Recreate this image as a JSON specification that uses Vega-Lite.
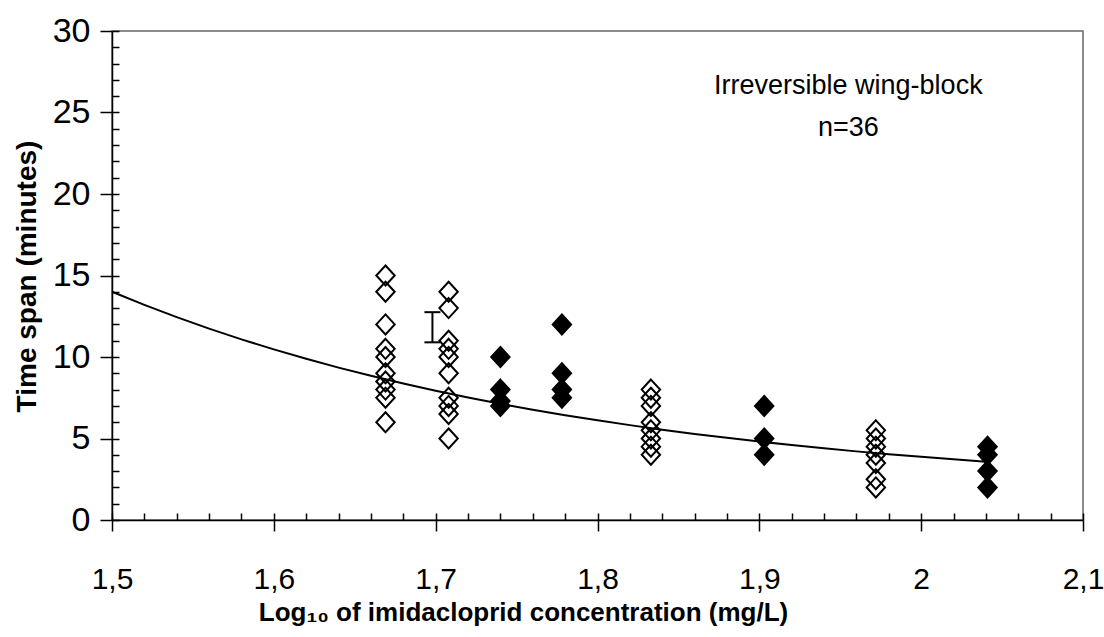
{
  "$schema": "https://vega.github.io/schema/vega-lite/v6.json",
  "width": 971,
  "height": 489,
  "autosize": {"type": "none"},
  "padding": {"left": 112, "top": 31, "right": 21, "bottom": 117},
  "background": "white",
  "config": {
    "view": {"stroke": "#666666", "strokeWidth": 1.5},
    "font": "Liberation Sans",
    "axis": {"grid": false}
  },
  "datasets": {
    "points": [
      {"x": 1.669, "y": 15, "type": "open"}, {"x": 1.669, "y": 14, "type": "open"}, {"x": 1.669, "y": 12, "type": "open"}, {"x": 1.669, "y": 10.5, "type": "open"}, {"x": 1.669, "y": 10, "type": "open"}, {"x": 1.669, "y": 9, "type": "open"}, {"x": 1.669, "y": 8.5, "type": "open"}, {"x": 1.669, "y": 8, "type": "open"}, {"x": 1.669, "y": 7.5, "type": "open"}, {"x": 1.669, "y": 6, "type": "open"},
      {"x": 1.708, "y": 14, "type": "open"}, {"x": 1.708, "y": 13, "type": "open"}, {"x": 1.708, "y": 11, "type": "open"}, {"x": 1.708, "y": 10.5, "type": "open"}, {"x": 1.708, "y": 10, "type": "open"}, {"x": 1.708, "y": 9, "type": "open"}, {"x": 1.708, "y": 7.5, "type": "open"}, {"x": 1.708, "y": 7, "type": "open"}, {"x": 1.708, "y": 6.5, "type": "open"}, {"x": 1.708, "y": 5, "type": "open"},
      {"x": 1.74, "y": 10, "type": "filled"}, {"x": 1.74, "y": 8, "type": "filled"}, {"x": 1.74, "y": 7.3, "type": "filled"}, {"x": 1.74, "y": 7, "type": "filled"},
      {"x": 1.778, "y": 12, "type": "filled"}, {"x": 1.778, "y": 9, "type": "filled"}, {"x": 1.778, "y": 8, "type": "filled"}, {"x": 1.778, "y": 7.5, "type": "filled"},
      {"x": 1.833, "y": 8, "type": "open"}, {"x": 1.833, "y": 7.5, "type": "open"}, {"x": 1.833, "y": 7, "type": "open"}, {"x": 1.833, "y": 6, "type": "open"}, {"x": 1.833, "y": 5.5, "type": "open"}, {"x": 1.833, "y": 5, "type": "open"}, {"x": 1.833, "y": 4.5, "type": "open"}, {"x": 1.833, "y": 4, "type": "open"},
      {"x": 1.903, "y": 7, "type": "filled"}, {"x": 1.903, "y": 5, "type": "filled"}, {"x": 1.903, "y": 4, "type": "filled"},
      {"x": 1.972, "y": 5.5, "type": "open"}, {"x": 1.972, "y": 5, "type": "open"}, {"x": 1.972, "y": 4.5, "type": "open"}, {"x": 1.972, "y": 4, "type": "open"}, {"x": 1.972, "y": 3.5, "type": "open"}, {"x": 1.972, "y": 2.5, "type": "open"}, {"x": 1.972, "y": 2, "type": "open"},
      {"x": 2.041, "y": 4.5, "type": "filled"}, {"x": 2.041, "y": 4, "type": "filled"}, {"x": 2.041, "y": 3, "type": "filled"}, {"x": 2.041, "y": 2, "type": "filled"}
    ],
    "curve": [
      {"x": 1.5, "y": 14.0}, {"x": 1.52, "y": 13.2}, {"x": 1.54, "y": 12.45}, {"x": 1.56, "y": 11.74}, {"x": 1.58, "y": 11.08},
      {"x": 1.6, "y": 10.47}, {"x": 1.62, "y": 9.89}, {"x": 1.64, "y": 9.35}, {"x": 1.66, "y": 8.85}, {"x": 1.68, "y": 8.38},
      {"x": 1.7, "y": 7.93}, {"x": 1.72, "y": 7.52}, {"x": 1.74, "y": 7.13}, {"x": 1.76, "y": 6.77}, {"x": 1.78, "y": 6.43},
      {"x": 1.8, "y": 6.12}, {"x": 1.82, "y": 5.82}, {"x": 1.84, "y": 5.54}, {"x": 1.86, "y": 5.28}, {"x": 1.88, "y": 5.04},
      {"x": 1.9, "y": 4.81}, {"x": 1.92, "y": 4.6}, {"x": 1.94, "y": 4.4}, {"x": 1.96, "y": 4.21}, {"x": 1.98, "y": 4.04},
      {"x": 2.0, "y": 3.88}, {"x": 2.02, "y": 3.72}, {"x": 2.04, "y": 3.58}
    ],
    "errbar": [{"x": 1.698, "lo": 10.9, "hi": 12.75}],
    "errcap": [{"x": 1.698, "y": 10.9}, {"x": 1.698, "y": 12.75}]
  },
  "layer": [
    {
      "data": {"name": "curve"},
      "mark": {"type": "line", "color": "black", "strokeWidth": 2},
      "encoding": {
        "x": {
          "field": "x", "type": "quantitative",
          "scale": {"domain": [1.5, 2.1], "nice": false, "zero": false},
          "axis": {
            "orient": "bottom",
            "values": [1.5, 1.6, 1.7, 1.8, 1.9, 2.0, 2.1],
            "labelExpr": "replace(format(datum.value, '.1~f'), '.', ',')",
            "labelFontSize": 30, "labelColor": "black", "labelFlush": false, "labelOverlap": false,
            "labelPadding": 33,
            "tickSize": 11, "tickColor": "black", "tickWidth": 1.5,
            "domainColor": "black", "domainWidth": 1.5,
            "title": "Log₁₀ of imidacloprid concentration (mg/L)",
            "titleFontSize": 26, "titleFontWeight": "bold", "titleColor": "black",
            "titleX": 411, "titleY": 92, "titleAlign": "center", "titleBaseline": "middle", "titleAnchor": null
          }
        },
        "y": {
          "field": "y", "type": "quantitative",
          "scale": {"domain": [0, 30], "nice": false, "zero": false},
          "axis": {
            "orient": "left",
            "values": [0, 5, 10, 15, 20, 25, 30],
            "labelFontSize": 34, "labelColor": "black", "labelPadding": 10,
            "tickSize": 12, "tickColor": "black", "tickWidth": 1.5,
            "domainColor": "black", "domainWidth": 1.5,
            "title": "Time span (minutes)",
            "titleFontSize": 28, "titleFontWeight": "bold", "titleColor": "black",
            "titleX": -85, "titleY": 245, "titleAngle": -90, "titleAlign": "center", "titleBaseline": "middle", "titleAnchor": null
          }
        }
      }
    },
    {
      "data": {"name": "errbar"},
      "mark": {"type": "rule", "color": "black", "strokeWidth": 2},
      "encoding": {
        "x": {
          "field": "x", "type": "quantitative",
          "scale": {"domain": [1.5, 2.1], "nice": false, "zero": false},
          "axis": {
            "orient": "bottom",
            "values": [1.5, 1.52, 1.54, 1.56, 1.58, 1.6, 1.62, 1.64, 1.66, 1.68, 1.7, 1.72, 1.74, 1.76, 1.78, 1.8, 1.82, 1.84, 1.86, 1.88, 1.9, 1.92, 1.94, 1.96, 1.98, 2.0, 2.02, 2.04, 2.06, 2.08, 2.1],
            "tickSize": -7, "tickColor": "black", "tickWidth": 1.5,
            "labels": false, "domain": false, "title": null
          }
        },
        "y": {
          "field": "lo", "type": "quantitative",
          "scale": {"domain": [0, 30], "nice": false, "zero": false},
          "axis": {
            "orient": "left",
            "values": [0, 1, 2, 3, 4, 5, 6, 7, 8, 9, 10, 11, 12, 13, 14, 15, 16, 17, 18, 19, 20, 21, 22, 23, 24, 25, 26, 27, 28, 29, 30],
            "tickSize": -7, "tickColor": "black", "tickWidth": 1.5,
            "labels": false, "domain": false, "title": null
          }
        },
        "y2": {"field": "hi"}
      }
    },
    {
      "data": {"name": "errcap"},
      "mark": {"type": "tick", "orient": "horizontal", "size": 16, "thickness": 2, "color": "black", "opacity": 1},
      "encoding": {
        "x": {"field": "x", "type": "quantitative", "scale": {"domain": [1.5, 2.1], "nice": false, "zero": false}, "axis": null},
        "y": {"field": "y", "type": "quantitative", "scale": {"domain": [0, 30], "nice": false, "zero": false}, "axis": null}
      }
    },
    {
      "data": {"name": "points"},
      "transform": [{"filter": "datum.type === 'open'"}],
      "mark": {"type": "point", "shape": "M0,-1L0.92,0L0,1L-0.92,0Z", "size": 400, "filled": false, "stroke": "black", "strokeWidth": 2, "opacity": 1},
      "encoding": {
        "x": {"field": "x", "type": "quantitative", "scale": {"domain": [1.5, 2.1], "nice": false, "zero": false}, "axis": null},
        "y": {"field": "y", "type": "quantitative", "scale": {"domain": [0, 30], "nice": false, "zero": false}, "axis": null}
      }
    },
    {
      "data": {"name": "points"},
      "transform": [{"filter": "datum.type === 'filled'"}],
      "mark": {"type": "point", "shape": "M0,-1L0.92,0L0,1L-0.92,0Z", "size": 400, "filled": true, "fill": "black", "stroke": "black", "strokeWidth": 2, "opacity": 1},
      "encoding": {
        "x": {"field": "x", "type": "quantitative", "scale": {"domain": [1.5, 2.1], "nice": false, "zero": false}, "axis": null},
        "y": {"field": "y", "type": "quantitative", "scale": {"domain": [0, 30], "nice": false, "zero": false}, "axis": null}
      }
    },
    {
      "data": {"values": [{"label": "annotation"}]},
      "mark": {"type": "text", "fontSize": 27, "lineHeight": 42, "align": "center", "baseline": "middle", "color": "black", "font": "Liberation Sans"},
      "encoding": {
        "x": {"datum": 1.955, "type": "quantitative", "scale": {"domain": [1.5, 2.1], "nice": false, "zero": false}, "axis": null},
        "y": {"datum": 26.65, "type": "quantitative", "scale": {"domain": [0, 30], "nice": false, "zero": false}, "axis": null},
        "text": {"value": ["Irreversible wing-block", "n=36"]}
      }
    }
  ],
  "resolve": {"axis": {"x": "independent", "y": "independent"}}
}
